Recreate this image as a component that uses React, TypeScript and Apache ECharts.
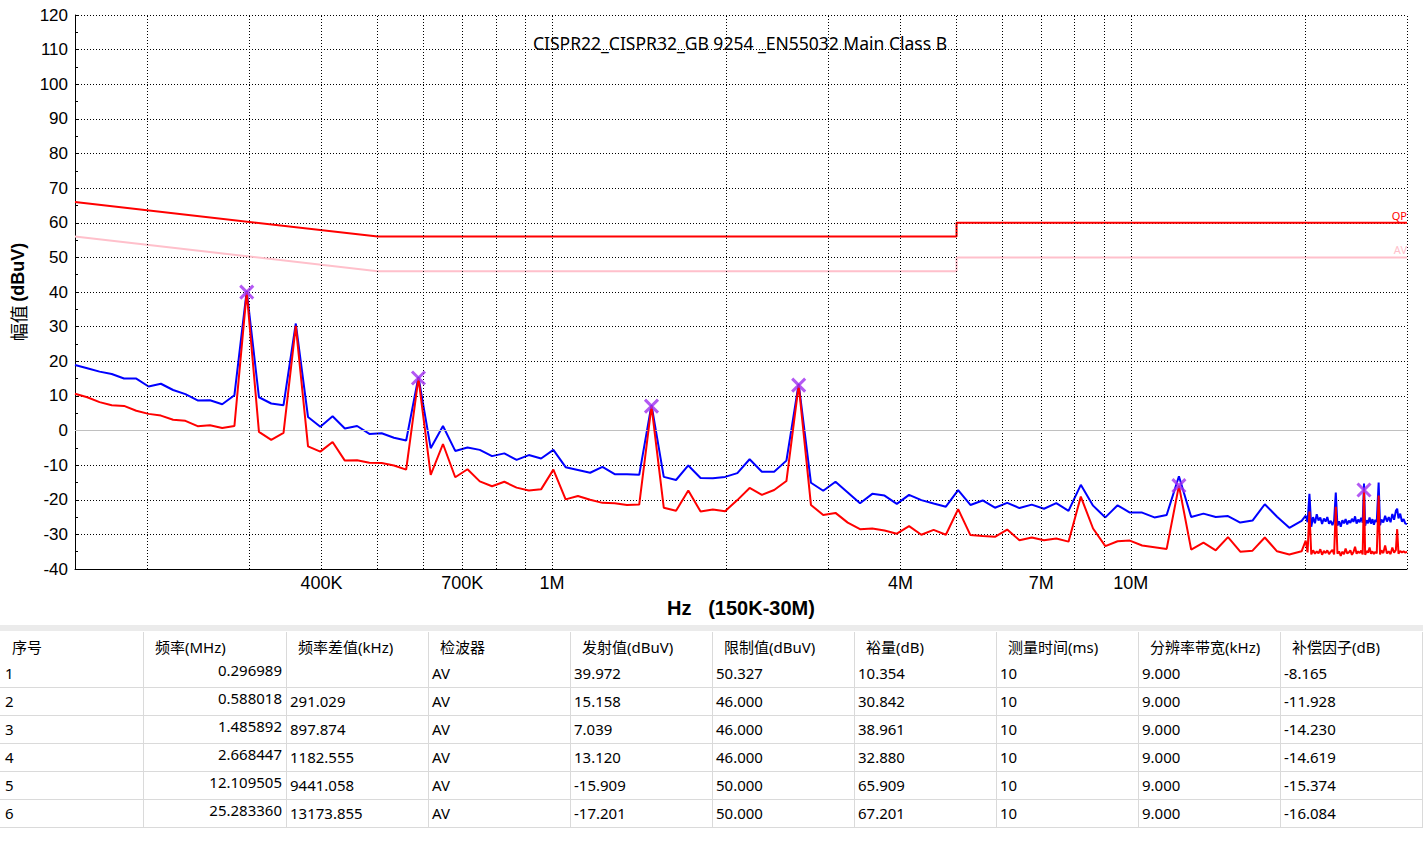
import React, { useEffect, useRef } from "react";
import * as echarts from "echarts";

// ---------------- chart data ----------------
const TITLE = "CISPR22_CISPR32_GB 9254 _EN55032 Main Class B";

// swept points (MHz)
const SWEEP_FREQ = [
  0.15, 0.1575, 0.1654, 0.1736, 0.1823, 0.1914, 0.201, 0.2111, 0.2216, 0.2327,
  0.2443, 0.2566, 0.2694, 0.2828, 0.296989, 0.3118, 0.3274, 0.3438, 0.361, 0.379,
  0.398, 0.4179, 0.4388, 0.4607, 0.4838, 0.508, 0.5334, 0.56, 0.588018, 0.6174,
  0.6483, 0.6807, 0.7147, 0.7505, 0.788, 0.8274, 0.8688, 0.9122, 0.9578, 1.0057,
  1.056, 1.1088, 1.1642, 1.2225, 1.2836, 1.3478, 1.4151, 1.485892, 1.5602, 1.6382,
  1.7201, 1.8061, 1.8964, 1.9912, 2.0908, 2.1953, 2.3051, 2.4204, 2.5414, 2.668447,
  2.8019, 2.942, 3.0891, 3.2435, 3.4057, 3.576, 3.7548, 3.9425, 4.1396, 4.3466,
  4.564, 4.7922, 5.0318, 5.2834, 5.5475, 5.8249, 6.1161, 6.422, 6.7431, 7.0802,
  7.4342, 7.8059, 8.1962, 8.606, 9.0363, 9.4882, 9.9626, 10.4607, 10.9837, 11.5329,
  12.109505, 12.715, 13.3508, 14.0183, 14.7192, 15.4552, 16.228, 17.0394, 17.8913, 18.7859,
  19.7252,
];
const SWEEP_PK = [
  18.9, 18.0, 17.0, 16.3, 15.0, 15.0, 12.7, 13.5, 11.7, 10.5,
  8.7, 8.75, 7.6, 10.2, 40.3, 9.6, 7.8, 7.3, 30.9, 3.9,
  1.1, 4.1, 0.6, 1.3, -1.0, -0.8, -2.1, -2.9, 15.5, -5.1,
  1.3, -5.9, -4.9, -5.6, -7.4, -6.6, -8.5, -7.1, -8.1, -5.6,
  -10.6, -11.4, -12.2, -10.5, -12.6, -12.6, -12.8, 7.4, -13.4, -14.3,
  -10.1, -13.7, -13.8, -13.4, -12.3, -8.3, -11.9, -11.9, -8.7, 13.5,
  -15.1, -17.4, -14.8, -17.9, -21.0, -18.3, -18.8, -21.2, -18.6, -20.1,
  -21.1, -22.0, -17.2, -21.5, -20.2, -22.3, -20.9, -22.4, -21.4, -22.6,
  -21.0, -23.2, -15.7, -21.7, -25.1, -21.6, -23.7, -23.7, -25.1, -24.4,
  -13.2, -25.0, -24.0, -25.0, -24.7, -26.6, -26.0, -21.3, -24.9, -28.1,
  -26.1,
];
const SWEEP_AV = [
  10.6, 9.6, 8.2, 7.3, 7.1, 5.7, 4.8, 4.3, 3.1, 2.8,
  1.25, 1.5, 0.7, 1.3, 39.972, -0.4, -2.7, -0.7, 30.2, -4.6,
  -6.1, -3.3, -8.7, -8.6, -9.3, -9.4, -10.1, -11.3, 15.158, -12.8,
  -3.9, -13.5, -11.2, -14.7, -16.1, -14.8, -16.5, -17.3, -17.0, -11.3,
  -19.9, -18.9, -20.0, -20.9, -21.0, -21.5, -21.4, 7.039, -22.3, -23.2,
  -17.3, -23.4, -22.8, -23.3, -20.1, -16.6, -18.6, -17.2, -14.6, 13.12,
  -21.5, -24.4, -23.8, -26.6, -28.5, -28.3, -28.9, -29.8, -27.6, -30.1,
  -28.7, -30.1, -22.7, -30.2, -30.5, -30.7, -28.6, -31.7, -30.9, -31.7,
  -31.2, -32.1, -19.1, -28.3, -33.4, -32.0, -31.8, -33.2, -33.7, -34.2,
  -15.909, -34.4, -32.4, -34.6, -30.8, -35.0, -34.7, -30.9, -34.9, -35.8,
  -34.9,
];

// fine scan 20M - 30M
const FINE_FREQ = [
  20.05, 20.2, 20.35, 20.5, 20.65, 20.8, 20.95, 21.1, 21.25, 21.4,
  21.55, 21.7, 21.85, 22.0, 22.15, 22.3, 22.45, 22.6, 22.75, 22.9,
  23.05, 23.2, 23.35, 23.5, 23.65, 23.8, 23.95, 24.1, 24.25, 24.4,
  24.55, 24.7, 24.85, 25.0, 25.15, 25.28336, 25.4, 25.55, 25.7, 25.85,
  26.0, 26.15, 26.3, 26.45, 26.6, 26.8, 26.95, 27.1, 27.3, 27.5,
  27.7, 27.9, 28.1, 28.3, 28.5, 28.7, 28.85, 29.0, 29.2, 29.4,
  29.6, 29.8, 30.0,
];
const FINE_PK = [
  -24.6, -26.5, -18.3, -27.8, -25.0, -26.8, -24.2, -26.0, -25.1, -27.0,
  -25.4, -26.3, -25.0, -26.9, -26.1, -27.3, -26.0, -17.9, -27.5, -26.2,
  -27.8, -25.9, -26.8, -25.6, -27.1, -26.0, -26.7, -25.5, -26.4, -24.8,
  -26.9, -25.7, -26.5, -25.2, -26.6, -15.3, -27.5, -25.9, -26.8, -25.1,
  -26.9, -25.6, -27.2, -25.8, -26.4, -15.0, -27.4, -25.7, -26.6, -24.6,
  -26.3, -25.0, -26.5, -24.1, -25.8, -23.2, -22.6, -25.4, -24.0, -26.3,
  -25.6, -26.9, -27.0,
];
const FINE_AV = [
  -31.8, -35.2, -23.4, -35.8, -34.6, -35.6, -34.9, -35.5, -34.3, -35.9,
  -34.8, -35.4, -34.6, -35.7, -35.0, -34.5, -35.8, -22.0, -35.6, -34.9,
  -36.2, -35.0, -35.7, -34.1, -35.5, -35.2, -34.6, -35.9, -35.1, -33.6,
  -35.6, -34.9, -35.4, -34.7, -35.8, -17.201, -35.9, -34.8, -35.3, -33.8,
  -35.6, -34.9, -35.7, -35.0, -35.5, -18.8, -35.8, -34.6, -35.4, -33.2,
  -35.5, -34.9, -35.7, -33.8, -35.3, -34.5, -28.5, -35.6, -34.8, -35.2,
  -34.9, -35.3, -35.0,
];

const QP_LIMIT_FREQ = [0.15, 0.5, 5, 5, 30];
const QP_LIMIT_VAL = [66, 56, 56, 60, 60];
const AV_LIMIT_FREQ = [0.15, 0.5, 5, 5, 30];
const AV_LIMIT_VAL = [56, 46, 46, 50, 50];

const MARKER_FREQ = [0.296989, 0.588018, 1.485892, 2.668447, 12.109505, 25.28336];
const MARKER_VAL = [39.972, 15.158, 7.039, 13.12, -15.909, -17.201];

const GRID_FREQS = [0.2, 0.3, 0.4, 0.5, 0.6, 0.7, 0.8, 0.9, 1, 2, 3, 4, 5, 6, 7, 8, 9, 10, 20, 30];
const X_LABEL_FREQS = [0.4, 0.7, 1, 4, 7, 10];
const X_LABELS = ["400K", "700K", "1M", "4M", "7M", "10M"];

// ---------------- table data ----------------
const TABLE_HEADERS = ["序号", "频率(MHz)", "频率差值(kHz)", "检波器", "发射值(dBuV)", "限制值(dBuV)", "裕量(dB)", "测量时间(ms)", "分辨率带宽(kHz)", "补偿因子(dB)"];
const COL_INDEX = ["1", "2", "3", "4", "5", "6"];
const COL_FREQ = ["0.296989", "0.588018", "1.485892", "2.668447", "12.109505", "25.283360"];
const COL_DELTA = ["", "291.029", "897.874", "1182.555", "9441.058", "13173.855"];
const COL_DETECTOR = ["AV", "AV", "AV", "AV", "AV", "AV"];
const COL_EMISSION = ["39.972", "15.158", "7.039", "13.120", "-15.909", "-17.201"];
const COL_LIMIT = ["50.327", "46.000", "46.000", "46.000", "50.000", "50.000"];
const COL_MARGIN = ["10.354", "30.842", "38.961", "32.880", "65.909", "67.201"];
const COL_TIME = ["10", "10", "10", "10", "10", "10"];
const COL_RBW = ["9.000", "9.000", "9.000", "9.000", "9.000", "9.000"];
const COL_FACTOR = ["-8.165", "-11.928", "-14.230", "-14.619", "-15.374", "-16.084"];

const AXIS_FONT = '"Liberation Sans", Arial, sans-serif';
const UI_FONT = '"Noto Sans", "Noto Sans CJK SC", sans-serif';
const CJK_FONT = '"Noto Sans CJK SC", "Noto Sans", sans-serif';

function buildTableGraphics() {
  const cols = [COL_INDEX, COL_FREQ, COL_DELTA, COL_DETECTOR, COL_EMISSION, COL_LIMIT, COL_MARGIN, COL_TIME, COL_RBW, COL_FACTOR];
  const colLefts = [0, 143, 286, 428, 570, 712, 854, 996, 1138, 1280];
  const tableRight = 1422;
  const headerY = 647;
  const rowY0 = 673;
  const rowH = 28;
  const els: any[] = [];
  els.push({ type: "rect", silent: true, shape: { x: 0, y: 625, width: 1423, height: 6 }, style: { fill: "#ebebeb" } });
  for (let c = 1; c < colLefts.length; c++) {
    els.push({ type: "line", silent: true, shape: { x1: colLefts[c] + 0.5, y1: 632, x2: colLefts[c] + 0.5, y2: 828 }, style: { stroke: "#dadada", lineWidth: 1 } });
  }
  els.push({ type: "line", silent: true, shape: { x1: tableRight + 0.5, y1: 632, x2: tableRight + 0.5, y2: 828 }, style: { stroke: "#dadada", lineWidth: 1 } });
  for (let r = 0; r < COL_INDEX.length; r++) {
    const y = 687.5 + r * rowH;
    els.push({ type: "line", silent: true, shape: { x1: 0, y1: y, x2: 1423, y2: y }, style: { stroke: "#dadada", lineWidth: 1 } });
  }
  TABLE_HEADERS.forEach((h, c) => {
    els.push({ type: "text", silent: true, x: colLefts[c] + 12, y: headerY, style: { text: h, fontSize: 15, fontFamily: UI_FONT, fill: "#000", align: "left", verticalAlign: "middle" } });
  });
  cols.forEach((col, c) => {
    col.forEach((v, r) => {
      const y = rowY0 + r * rowH;
      if (c === 1) {
        els.push({ type: "text", silent: true, x: colLefts[2] - 4, y: y - 3, style: { text: v, fontSize: 15, fontFamily: UI_FONT, fill: "#000", align: "right", verticalAlign: "middle" } });
      } else {
        els.push({ type: "text", silent: true, x: colLefts[c] + (c === 0 ? 5 : 4), y, style: { text: v, fontSize: 15, fontFamily: UI_FONT, fill: "#000", align: "left", verticalAlign: "middle" } });
      }
    });
  });
  return els;
}

function buildOption() {
  const freq = SWEEP_FREQ.concat(FINE_FREQ);
  const pk = SWEEP_PK.concat(FINE_PK);
  const av = SWEEP_AV.concat(FINE_AV);
  const pkData = freq.map((f, i) => [f, pk[i]]);
  const avData = freq.map((f, i) => [f, av[i]]);

  const limitData = (fs: number[], vs: number[], name: string, color: string) =>
    fs.map((f, i) =>
      i === fs.length - 1
        ? { value: [f, vs[i]], label: { show: true, formatter: name, position: "top", align: "right", distance: 2, color, fontSize: 11, fontFamily: UI_FONT } }
        : { value: [f, vs[i]] }
    );

  const gridMarks: any[] = GRID_FREQS.map((f) => {
    const k = X_LABEL_FREQS.indexOf(f);
    return {
      xAxis: f,
      label:
        k >= 0
          ? { show: true, position: "start", formatter: X_LABELS[k], distance: 5, color: "#000", fontSize: 18, fontFamily: AXIS_FONT }
          : { show: false },
    };
  });
  gridMarks.push({ yAxis: 0, lineStyle: { color: "#c0c0c0", type: "solid", width: 1 }, label: { show: false } });

  return {
    animation: false,
    backgroundColor: "#ffffff",
    grid: { left: 75, right: 16, top: 15, bottom: 282, containLabel: false, outerBoundsMode: "none" },
    xAxis: {
      type: "log",
      logBase: 10,
      min: 0.15,
      max: 30,
      name: "Hz   (150K-30M)",
      nameLocation: "middle",
      nameGap: 29,
      nameTextStyle: { fontSize: 20, fontWeight: "bold", color: "#000", fontFamily: AXIS_FONT },
      axisLine: { show: true, onZero: false, lineStyle: { color: "#000", width: 1 } },
      axisTick: { show: false },
      axisLabel: { show: false },
      splitLine: { show: false },
      minorTick: { show: false },
      minorSplitLine: { show: false },
    },
    yAxis: {
      type: "value",
      min: -40,
      max: 120,
      interval: 10,
      name: "{a|幅值} {b|(dBuV)}",
      nameLocation: "middle",
      nameRotate: 90,
      nameGap: 48,
      nameTextStyle: {
        rich: {
          a: { fontSize: 18, fontFamily: CJK_FONT, color: "#000" },
          b: { fontSize: 18, fontWeight: "bold", fontFamily: AXIS_FONT, color: "#000" },
        },
      },
      axisLine: { show: true, onZero: false, lineStyle: { color: "#000", width: 1 } },
      axisTick: { show: true, inside: true, length: 4, lineStyle: { color: "#000" } },
      minorTick: { show: true, splitNumber: 2, length: 3, lineStyle: { color: "#000" } },
      axisLabel: { color: "#000", fontSize: 17, fontFamily: AXIS_FONT, margin: 7 },
      splitLine: { show: true, lineStyle: { color: "#000", type: [1, 2], width: 1 } },
    },
    graphic: [
      {
        type: "text",
        silent: true,
        x: 740,
        y: 43,
        style: { text: TITLE, fontSize: 17.5, fontFamily: UI_FONT, fill: "#000", align: "center", verticalAlign: "middle" },
      },
      ...buildTableGraphics(),
    ],
    series: [
      {
        name: "AV Limit",
        type: "line",
        silent: true,
        data: limitData(AV_LIMIT_FREQ, AV_LIMIT_VAL, "AV", "#ffc0cb"),
        symbol: "circle",
        symbolSize: 0,
        showSymbol: true,
        lineStyle: { color: "#ffc0cb", width: 2 },
        itemStyle: { color: "#ffc0cb" },
        markLine: {
          silent: true,
          symbol: ["none", "none"],
          animation: false,
          lineStyle: { color: "#000", type: [1, 2], width: 1 },
          label: { show: false },
          data: gridMarks,
        },
        z: 2,
      },
      {
        name: "QP Limit",
        type: "line",
        silent: true,
        data: limitData(QP_LIMIT_FREQ, QP_LIMIT_VAL, "QP", "#ff0000"),
        symbol: "circle",
        symbolSize: 0,
        showSymbol: true,
        lineStyle: { color: "#ff0000", width: 2 },
        itemStyle: { color: "#ff0000" },
        z: 3,
      },
      {
        name: "Peak",
        type: "line",
        silent: true,
        data: pkData,
        showSymbol: false,
        lineStyle: { color: "#0000ff", width: 2 },
        itemStyle: { color: "#0000ff" },
        z: 4,
      },
      {
        name: "Average",
        type: "line",
        silent: true,
        data: avData,
        showSymbol: false,
        lineStyle: { color: "#ff0000", width: 2 },
        itemStyle: { color: "#ff0000" },
        z: 5,
      },
      {
        name: "Markers",
        type: "scatter",
        silent: true,
        data: MARKER_FREQ.map((f, i) => [f, MARKER_VAL[i]]),
        symbol: "path://M0 0L10 10M10 0L0 10",
        symbolSize: 13,
        itemStyle: { color: "rgba(0,0,0,0)", borderColor: "#a02ef0", borderWidth: 3 },
        z: 6,
      },
    ],
  };
}

export default function App() {
  const ref = useRef<HTMLDivElement>(null);
  useEffect(() => {
    document.body.style.margin = "0";
    const chart = echarts.init(ref.current as HTMLDivElement, null, { renderer: "svg" });
    chart.setOption(buildOption() as any);
    return () => {
      chart.dispose();
    };
  }, []);
  return <div ref={ref} style={{ width: 1423, height: 851 }} />;
}
